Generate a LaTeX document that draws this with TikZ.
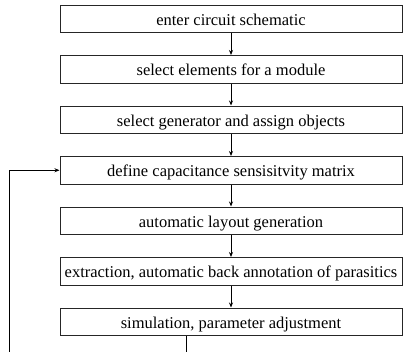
\documentclass[tikz,border=0pt]{standalone}
\usepackage{fontspec}
\setmainfont{Liberation Serif}
\usetikzlibrary{arrows.meta}
\begin{document}
\begin{tikzpicture}[x=1pt,y=1pt,
  stepbox/.style={draw=black!85, line width=1pt, rectangle, minimum width=342pt, minimum height=27.5pt,
    inner sep=0pt, text height=12.5pt, text depth=0pt, font=\fontsize{16.5}{18}\selectfont},
  conn/.style={draw=black, line width=0.8pt, -{Stealth[length=5pt,width=4pt]}}]
\useasboundingbox (0,0) rectangle (404,-351);
\node[stepbox] (b1) at (231,-18.75) {enter circuit schematic};
\node[stepbox] (b2) at (231,-69.25) {select elements for a module};
\node[stepbox] (b3) at (231,-119.75) {select generator and assign objects};
\node[stepbox] (b4) at (231,-170.25) {define capacitance sensisitvity matrix};
\node[stepbox] (b5) at (231,-220.75) {automatic layout generation};
\node[stepbox] (b6) at (231,-271.25) {extraction, automatic back annotation of parasitics};
\node[stepbox] (b7) at (231,-321.75) {simulation, parameter adjustment};
\draw[conn] (b1) -- (b2);
\draw[conn] (b2) -- (b3);
\draw[conn] (b3) -- (b4);
\draw[conn] (b4) -- (b5);
\draw[conn] (b5) -- (b6);
\draw[conn] (b6) -- (b7);
\coordinate (s) at (186,-335.5);
\coordinate (c1) at (186,-362);
\coordinate (c2) at (9.5,-362);
\coordinate (c3) at (9.5,-170.25);
\draw[conn] (s) -- (c1) -- (c2) -- (c3) -- (b4.west);
\end{tikzpicture}
\end{document}
